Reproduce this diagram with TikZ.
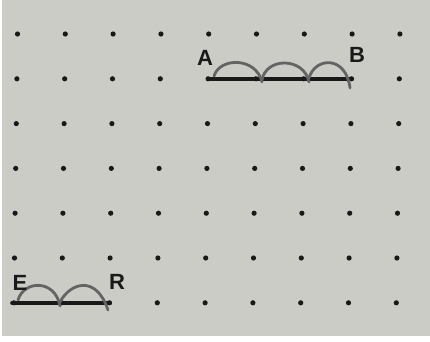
\documentclass[tikz,border=0pt]{standalone}
\usepackage{fontspec}
\setmainfont{Liberation Sans}
\definecolor{paper}{RGB}{204,204,199}
\definecolor{ink}{RGB}{25,25,25}
\definecolor{pencil}{RGB}{100,100,100}
\tikzset{
  gdot/.style={fill=ink,draw=none},
  segline/.style={draw=ink,line width=3.6pt,line cap=round},
  arcline/.style={draw=pencil,line width=2.8pt,line cap=round},
  lbl/.style={font=\bfseries\fontsize{22}{22}\selectfont,text=ink,inner sep=0pt}
}
\begin{document}
\begin{tikzpicture}[x=1pt,y=-1pt]
\fill[white] (0,0) rectangle (430,341);
\fill[paper] (2,0) rectangle (430,336);
\useasboundingbox (0,0) rectangle (430,341);
% dot grid
\foreach \r in {0,...,6}{
  \foreach \c in {0,...,8}{
    \fill[gdot] ({17.5+\c*47.8-\r*0.6},{34+\r*44.8}) circle (2.6);
  }
}
% AB
\coordinate (a) at (208,79);
\coordinate (b) at (352,79);
\draw[segline] (a) -- (b);
\draw[arcline] (214,76) .. controls (220,57) and (256,57) .. (262,82);
\draw[arcline] (262,80) .. controls (266,57) and (304,57) .. (309,82);
\draw[arcline] (309,78) .. controls (315,57) and (346,55) .. (350,88);
\node[lbl] (A) at (205,58) {A};
\node[lbl] (B) at (357,55) {B};
% ER
\coordinate (e) at (12,303);
\coordinate (r) at (110,303);
\draw[segline] (e) -- (r);
\draw[arcline] (18,300) .. controls (24,280) and (55,279) .. (60,306);
\draw[arcline] (60,302) .. controls (70,283) and (96,274) .. (108,310);
\node[lbl] (E) at (20,283) {E};
\node[lbl] (R) at (117,282) {R};
\end{tikzpicture}
\end{document}
